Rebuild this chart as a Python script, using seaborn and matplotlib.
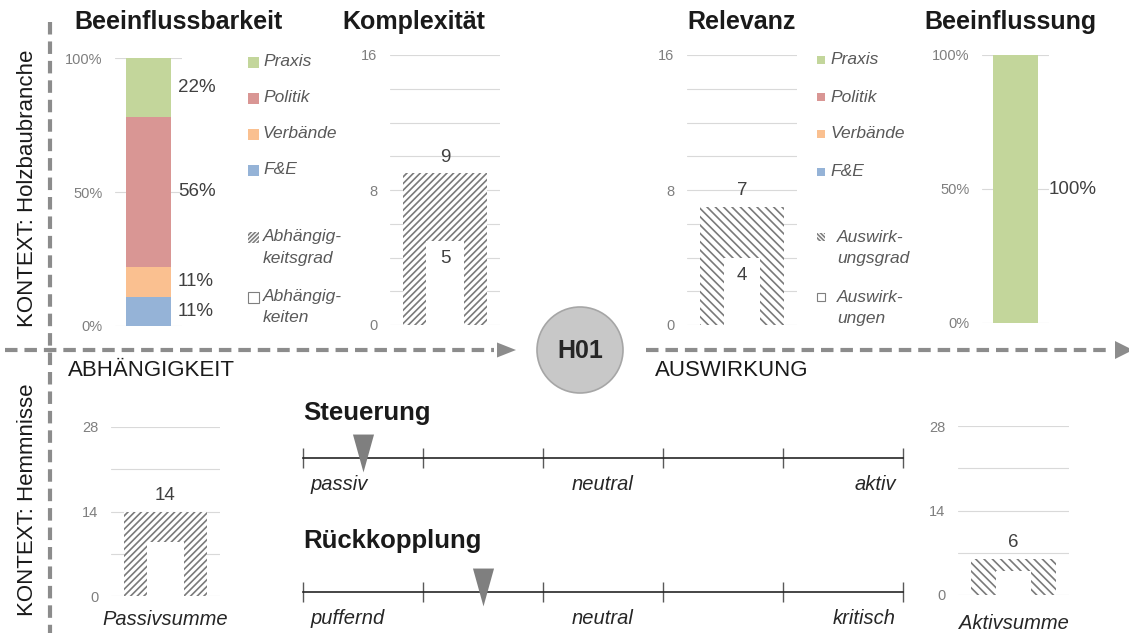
import matplotlib
matplotlib.use('Agg')
import matplotlib.pyplot as plt
import seaborn as sns
import numpy as np
from matplotlib.patches import Rectangle, Circle, Polygon
from matplotlib.markers import MarkerStyle
from matplotlib.ticker import PercentFormatter, StrMethodFormatter

# values
akteure = ['F&E', 'Verbände', 'Politik', 'Praxis']
akteur_farben = ['#95b3d7', '#fac090', '#d99694', '#c3d69b']
beeinflussbarkeit = [11, 11, 56, 22]      # % per Akteur
beeinflussung = [0, 0, 0, 100]             # % per Akteur
komplexitaet = 9          # Abhaengigkeitsgrad
abhaengigkeiten = 5
relevanz = 7              # Auswirkungsgrad
auswirkungen = 4
passivsumme = 14
passiv_innen = 9
aktivsumme = 6
aktiv_innen = 4
steuerung = 1             # position on 0..10 scale
rueckkopplung = 3
skala_ticks = [0, 2, 4, 6, 8, 10]
steuerung_labels = ['passiv', 'neutral', 'aktiv']
rueckkopplung_labels = ['puffernd', 'neutral', 'kritisch']

W, H, DPI = 1129, 633, 100
GRAU = '#8c8c8c'
TXT = '#404040'

sns.set_style('white')
plt.rcParams['font.family'] = ['Liberation Sans', 'DejaVu Sans']
plt.rcParams['hatch.linewidth'] = 1.2
plt.rcParams['lines.scale_dashes'] = False


def px_box(x0, y0, x1, y1):
    return [x0 / W, 1 - y1 / H, (x1 - x0) / W, (y1 - y0) / H]


def style_axis(ax, ymax, label_step, grid_step, fmt):
    ax.set_xlim(-0.5, 0.5)
    ax.set_ylim(0, ymax)
    ax.set_yticks(np.arange(0, ymax + 1, label_step))
    ax.set_yticks(np.arange(0, ymax + 1, grid_step), minor=True)
    ax.yaxis.set_major_formatter(fmt)
    ax.grid(axis='y', which='both', color='#d9d9d9', lw=0.8)
    ax.set_axisbelow(True)
    ax.tick_params(axis='y', which='both', length=0, pad=9,
                   labelsize=10.5, labelcolor='#7f7f7f')
    ax.set_xticks([])
    ax.set_xlabel('')
    ax.set_ylabel('')
    sns.despine(ax=ax, left=True, bottom=True)


def stacked(ax, werte, width, dx):
    cum = np.cumsum(werte)
    for top, farbe in reversed(list(zip(cum, akteur_farben))):
        sns.barplot(x=['a'], y=[top], ax=ax, color=farbe, saturation=1,
                    width=width, linewidth=0)
    style_axis(ax, 100, 50, 50, PercentFormatter(decimals=0))
    for v, c in zip(werte, cum - np.array(werte) / 2):
        if v > 0:
            ax.annotate(f'{v}%', xy=(1, c), xycoords=('axes fraction', 'data'),
                        xytext=(dx, 0), textcoords='offset pixels',
                        ha='left', va='center', fontsize=13.5, color=TXT,
                        annotation_clip=False)


def hatched(ax, aussen, innen, hatch, w_out, w_in, ymax, label_step,
            grid_step, inner_label):
    sns.barplot(x=['a'], y=[aussen], ax=ax, color='white', saturation=1,
                width=w_out)
    sns.barplot(x=['a'], y=[innen], ax=ax, color='white', saturation=1,
                width=w_in)
    for p in ax.containers[0]:
        p.set_hatch(hatch)
        p.set_edgecolor('#7a7a7a')
        p.set_linewidth(0)
    for p in ax.containers[1]:
        p.set_linewidth(0)
    style_axis(ax, ymax, label_step, grid_step, StrMethodFormatter('{x:.0f}'))
    ax.annotate(str(aussen), xy=(0, aussen), xytext=(0, 16),
                textcoords='offset pixels', ha='center', va='center',
                fontsize=13.5, color=TXT)
    if inner_label:
        ax.annotate(str(innen), xy=(0, innen), xytext=(0, -18),
                    textcoords='offset pixels', ha='center', va='center',
                    fontsize=13.5, color=TXT)


fig = plt.figure(figsize=(W / DPI, H / DPI), dpi=DPI)

# overlay in pixel coordinates for the frame, arrows and legends
ov = fig.add_axes([0, 0, 1, 1])
ov.set_xlim(0, W)
ov.set_ylim(H, 0)
ov.axis('off')

dash = dict(color=GRAU, lw=3, dashes=(9, 5), solid_capstyle='butt')
ov.plot([50, 50], [22, 633], **dash)
ov.plot([5, 494], [350, 350], **dash)
ov.add_patch(Polygon([[497, 342.5], [497, 357.5], [516, 350]], color=GRAU, lw=0))
ov.plot([646, 1112], [350, 350], **dash)
ov.add_patch(Polygon([[1115, 341], [1115, 359], [1133, 350]], color=GRAU, lw=0))
ov.add_patch(Circle((580, 350), 43, fc='#c8c8c8', ec='#a6a6a6', lw=1.2))
ov.text(580, 351, 'H01', ha='center', va='center', fontsize=18,
        fontweight='bold', color='#262626')

ov.text(28, 188, 'KONTEXT: Holzbaubranche', rotation=90, ha='center',
        va='center', fontsize=16, color='#1a1a1a')
ov.text(28, 500, 'KONTEXT: Hemmnisse', rotation=90, ha='center',
        va='center', fontsize=16, color='#1a1a1a')
ov.text(68, 370, 'ABHÄNGIGKEIT', ha='left', va='center', fontsize=16,
        color='#1a1a1a')
ov.text(655, 370, 'AUSWIRKUNG', ha='left', va='center', fontsize=16,
        color='#1a1a1a')

for x, t in [(179, 'Beeinflussbarkeit'), (414, 'Komplexität'),
             (742, 'Relevanz'), (1010, 'Beeinflussung')]:
    ov.text(x, 22, t, ha='center', va='center', fontsize=18,
            fontweight='bold', color='#1a1a1a')


def legend_block(x_sq, sq, x_txt, ys, x_txt2, hatch, zeilen):
    for (name, farbe), y in zip(zip(reversed(akteure), reversed(akteur_farben)), ys):
        ov.add_patch(Rectangle((x_sq, y - sq / 2), sq, sq, fc=farbe, ec='none'))
        ov.text(x_txt, y, name, style='italic', va='center', fontsize=12.5,
                color='#595959')
    for i, (z1, z2) in enumerate(zeilen):
        y = 237 + i * 60
        if i == 0:
            ov.add_patch(Rectangle((x_sq, y - sq / 2), sq, sq, fc='white',
                                   ec='#7f7f7f', lw=0, hatch=hatch))
        else:
            ov.add_patch(Rectangle((x_sq, y - sq / 2), sq, sq, fc='white',
                                   ec='#7f7f7f', lw=0.8))
        ov.text(x_txt2, y, z1, style='italic', va='center', fontsize=12.5,
                color='#595959')
        ov.text(x_txt2, y + 21, z2, style='italic', va='center', fontsize=12.5,
                color='#595959')


legend_block(248, 11, 263, [62, 98, 134, 170], 263, '////////',
             [('Abhängig-', 'keitsgrad'), ('Abhängig-', 'keiten')])
legend_block(817, 8, 830, [60, 97, 134, 172], 837, '\\\\\\\\\\\\\\\\',
             [('Auswirk-', 'ungsgrad'), ('Auswirk-', 'ungen')])

# bar charts
ax1 = fig.add_axes(px_box(115, 58, 182, 326))
stacked(ax1, beeinflussbarkeit, 0.66, -4)

ax2 = fig.add_axes(px_box(390, 55, 500, 325))
hatched(ax2, komplexitaet, abhaengigkeiten, '/////', 0.76, 0.34, 16, 8, 2, True)

ax3 = fig.add_axes(px_box(687, 55, 797, 325))
hatched(ax3, relevanz, auswirkungen, '\\\\\\\\', 0.77, 0.33, 16, 8, 2, True)

ax4 = fig.add_axes(px_box(982, 55, 1049, 323))
stacked(ax4, beeinflussung, 0.67, 0)

ax5 = fig.add_axes(px_box(111, 427, 220, 596))
hatched(ax5, passivsumme, passiv_innen, '/////', 0.77, 0.34, 28, 14, 7, False)
ax5.set_xlabel('Passivsumme', style='italic', fontsize=14.5, color='#262626',
               labelpad=10)

ax6 = fig.add_axes(px_box(958, 426, 1069, 595))
hatched(ax6, aktivsumme, aktiv_innen, '\\\\\\\\', 0.77, 0.32, 28, 14, 7, False)
ax6.set_xlabel('Aktivsumme', style='italic', fontsize=14.5, color='#262626',
               labelpad=14)

# scales
dreieck = MarkerStyle([(-0.44, 1), (0.44, 1), (0, -0.58)])


def skala(y_line, y_title, titel, wert, labels):
    ax = fig.add_axes(px_box(303, y_line - 30, 903, y_line + 30))
    sns.scatterplot(x=[wert], y=[0], ax=ax, marker=dreieck, s=1190,
                    color='#7f7f7f', linewidth=0, zorder=3, clip_on=False)
    ax.set_xlim(0, 10)
    ax.set_ylim(-1, 1)
    for s in ['top', 'left', 'right']:
        ax.spines[s].set_visible(False)
    ax.spines['bottom'].set_position(('data', 0))
    ax.spines['bottom'].set_color('#262626')
    ax.spines['bottom'].set_linewidth(1.2)
    ax.set_xticks(skala_ticks)
    ax.tick_params(axis='x', direction='inout', length=15, width=1,
                   color='#595959', labelbottom=False, bottom=True)
    ax.set_yticks([])
    ax.set_xlabel('')
    ax.set_ylabel('')
    ax.patch.set_alpha(0)
    for lbl, x, ha, dx in zip(labels, [0, 5, 10], ['left', 'center', 'right'],
                              [8, 0, -7]):
        ax.annotate(lbl, xy=(x, 0), xytext=(dx, -26), textcoords='offset pixels',
                    ha=ha, va='center', style='italic', fontsize=14.5,
                    color='#262626', annotation_clip=False)
    ov.text(303, y_title, titel, ha='left', va='center', fontsize=18.5,
            fontweight='bold', color='#1a1a1a')


skala(458, 413, 'Steuerung', steuerung, steuerung_labels)
skala(592, 541, 'Rückkopplung', rueckkopplung, rueckkopplung_labels)

fig.savefig('out.png', dpi=DPI)
